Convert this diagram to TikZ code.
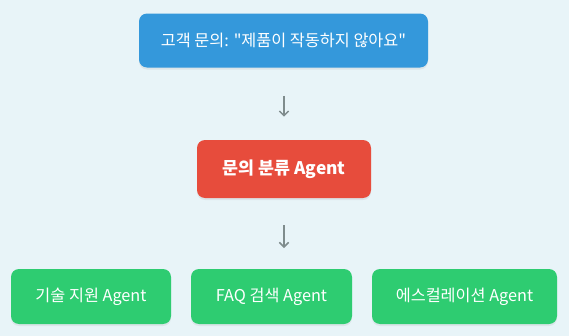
\documentclass[tikz,border=0pt]{standalone}
\usepackage{fontspec}
\setmainfont{Noto Sans CJK KR}[Ligatures=TeXOff]
\usetikzlibrary{shadows,arrows.meta}
\definecolor{bg}{HTML}{E8F4F8}
\definecolor{cblue}{HTML}{3498DB}
\definecolor{cred}{HTML}{E74C3C}
\definecolor{cgreen}{HTML}{2ECC71}
\definecolor{carrow}{HTML}{7F8C8D}
\tikzset{
  box/.style={rounded corners=6pt, text=white, inner sep=0pt,
    drop shadow={opacity=0.12, shadow xshift=0pt, shadow yshift=-1.5pt}},
  lbl/.style={font=\fontsize{12.2pt}{14pt}\selectfont},
  arr/.style={draw=carrow, line width=1.1pt, -{Straight Barb[length=3.5pt,width=7pt]}},
}
\begin{document}
\begin{tikzpicture}[x=0.75pt,y=-0.75pt]
\useasboundingbox[fill=bg] (0,0) rectangle (569,336);
\node[box, lbl, fill=cblue, minimum width=289*0.75pt, minimum height=54*0.75pt] (q) at (283.5,40.5) {고객 문의: "제품이 작동하지 않아요"};
\node[box, fill=cred, minimum width=174*0.75pt, minimum height=58*0.75pt, font=\fontsize{13pt}{15pt}\selectfont\bfseries] (c) at (284,169) {문의 분류 Agent};
\node[box, lbl, fill=cgreen, minimum width=160*0.75pt, minimum height=55*0.75pt] (t) at (91,296.5) {기술 지원 Agent};
\node[box, lbl, fill=cgreen, minimum width=161*0.75pt, minimum height=55*0.75pt] (f) at (271.5,296.5) {FAQ 검색 Agent};
\node[box, lbl, fill=cgreen, minimum width=185*0.75pt, minimum height=55*0.75pt] (e) at (464.5,296.5) {에스컬레이션 Agent};
\coordinate (a2) at (284,248);
\draw[arr, shorten <=28*0.75pt, shorten >=23*0.75pt] (q.south -| 284,0) -- (c.north -| 284,0);
\draw[arr, shorten <=27*0.75pt] (c.south -| 284,0) -- (a2);
\end{tikzpicture}
\end{document}
